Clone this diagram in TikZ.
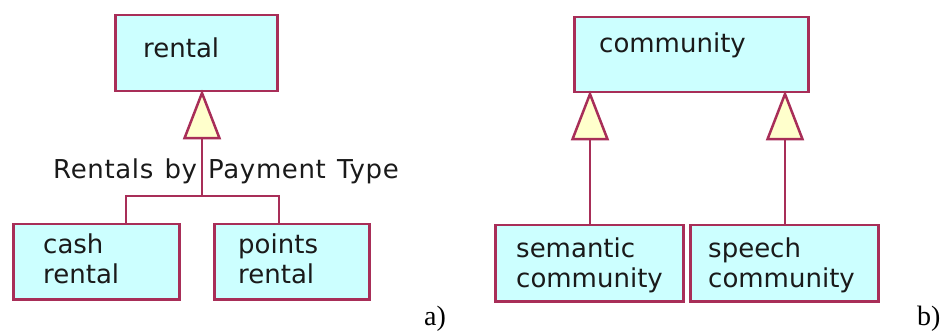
\documentclass[tikz,border=0pt]{standalone}
\usepackage{fontspec}
\setmainfont{Liberation Serif}
\newfontfamily\umlfont{DejaVu Sans}
\newfontfamily\umlwidefont[LetterSpace=2.5, WordSpace=1.25]{DejaVu Sans}
\usetikzlibrary{arrows.meta}
\definecolor{boxfill}{HTML}{CCFFFF}
\definecolor{boxline}{HTML}{A82E58}
\definecolor{trifill}{HTML}{FFFFCC}
\definecolor{umltext}{HTML}{1A1A1A}
\tikzset{
  umlbox/.style={draw=boxline, fill=boxfill, line width=2.5pt, rectangle,
    anchor=north west, inner sep=0pt},
  umllabel/.style={anchor=base west, inner sep=0pt, text=umltext,
    font=\umlfont\fontsize{26}{29}\selectfont, align=left},
  gen/.style={draw=boxline, line width=2.5pt, shorten >=-3pt,
    -{Triangle[length=50pt, width=38pt, fill=trifill]}},
  caption/.style={anchor=base west, inner sep=0pt,
    font=\fontsize{28}{30}\selectfont}
}
\begin{document}
\begin{tikzpicture}[x=1pt, y=-1pt]
\path[use as bounding box] (0,0) rectangle (945,331);

% a) rentals by payment type
\node[umlbox, minimum width=162pt, minimum height=76pt] (rental) at (114,14) {};
\node[umllabel] (rentalT) at (143,58) {rental};
\node[umlbox, minimum width=166pt, minimum height=75pt] (cash) at (12,223) {};
\node[umllabel] (cashT) at (43,283) {cash\\rental};
\node[umlbox, minimum width=155pt, minimum height=75pt] (points) at (213,223) {};
\node[umllabel] (pointsT) at (238,283) {points\\rental};
\coordinate (join) at (202,196);
\draw[boxline, line width=2.5pt] (cash.north -| 126,0) |- (join) -| (points.north -| 279,0);
\draw[gen] (join) -- (rental.south -| join);
\node[umllabel, font=\umlwidefont\fontsize{26}{29}\selectfont] (setname) at (53,179) {Rentals by Payment Type};
\node[caption] (capA) at (424,325) {a)};

% b) community
\node[umlbox, minimum width=234pt, minimum height=75pt] (community) at (573,16) {};
\node[umllabel] (communityT) at (599,53) {community};
\node[umlbox, minimum width=188pt, minimum height=76pt] (semantic) at (494,224) {};
\node[umllabel] (semanticT) at (516,287) {semantic\\community};
\node[umlbox, minimum width=188pt, minimum height=76pt] (speech) at (689,224) {};
\node[umllabel] (speechT) at (708,287) {speech\\community};
\draw[gen] (semantic.north -| 590,0) -- (community.south -| 590,0);
\draw[gen] (speech.north -| 785,0) -- (community.south -| 785,0);
\node[caption] (capB) at (917,325) {b)};
\end{tikzpicture}
\end{document}
